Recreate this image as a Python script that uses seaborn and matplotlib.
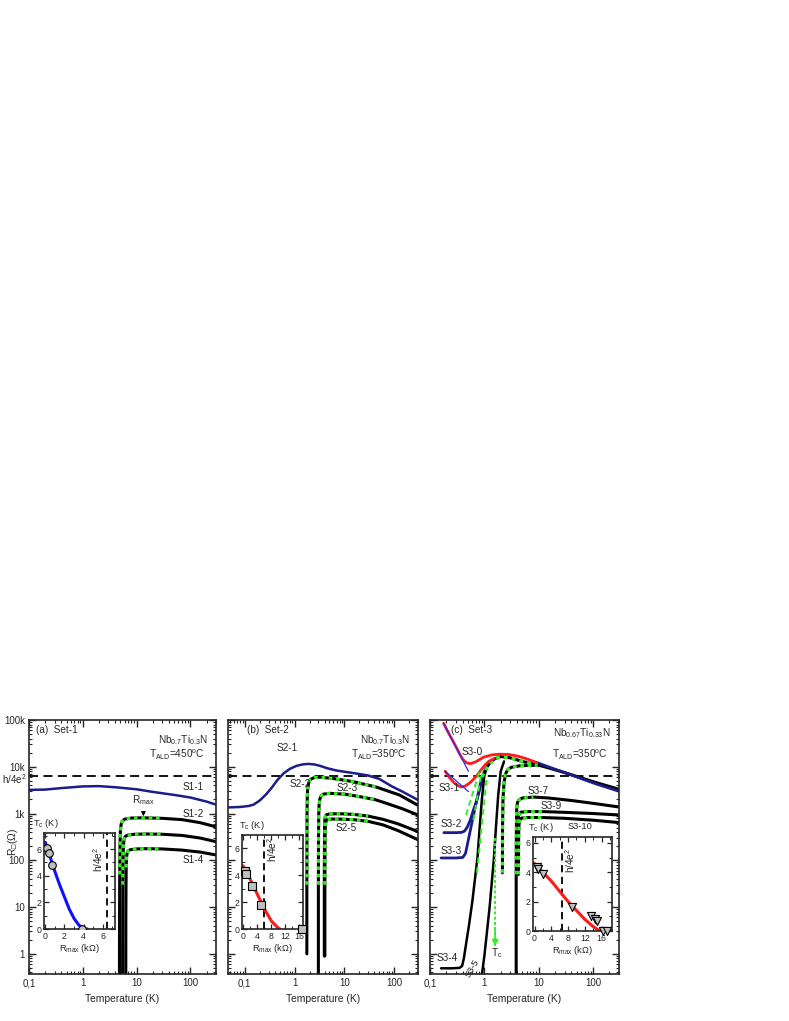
import numpy as np
import seaborn as sns
import matplotlib.pyplot as plt
from matplotlib.ticker import FixedLocator, FuncFormatter, LogLocator, NullFormatter, AutoMinorLocator

# ---------------- data ----------------
# panel (a) Set-1
s11_T = [0.1, 0.2, 0.4, 1, 2, 4, 10, 20, 50, 100, 200, 300]
s11_R = [3200, 3250, 3500, 3800, 3850, 3650, 3300, 2900, 2500, 2200, 1800, 1550]
s12_T = [4.8, 4.82, 4.86, 4.92, 5.0, 5.15, 5.4, 6, 8, 13, 30, 70, 150, 300]
s12_R = [0.1, 5, 50, 200, 420, 580, 680, 760, 800, 810, 790, 740, 640, 520]
s13_T = [5.5, 5.52, 5.56, 5.62, 5.7, 5.85, 6.1, 6.8, 9, 15, 30, 70, 150, 300]
s13_R = [0.1, 5, 30, 110, 200, 280, 320, 345, 360, 365, 360, 340, 300, 250]
s14_T = [6.3, 6.32, 6.36, 6.42, 6.5, 6.65, 6.9, 7.6, 10, 15, 30, 70, 150, 300]
s14_R = [0.1, 5, 25, 70, 110, 140, 158, 168, 175, 177, 175, 165, 150, 130]

# panel (b) Set-2
s21_T = [0.046, 0.08, 0.12, 0.15, 0.2, 0.27, 0.35, 0.45, 0.6, 0.8, 1.1, 1.5, 1.9, 2.5,
         3.2, 4.5, 7, 12, 20, 30, 50, 90, 150, 300]
s21_R = [1350, 1380, 1450, 1550, 1900, 2600, 3600, 5200, 7200, 9000, 10500, 11300, 11500,
         11200, 10500, 9300, 8300, 7600, 7000, 6500, 5500, 3800, 2900, 1950]
s22_T = [1.76, 1.76, 1.77, 1.78, 1.8, 1.85, 1.95, 2.1, 2.5, 3.2, 6, 15, 43, 126, 300]
s22_R = [1.0, 30, 300, 1200, 2500, 3800, 4800, 5400, 5900, 6000, 5600, 4800, 3700, 2500, 1500]
s23_T = [3.0, 3.0, 3.02, 3.05, 3.1, 3.2, 3.4, 3.8, 5, 10, 20, 40, 68, 150, 300]
s23_R = [0.1, 30, 300, 900, 1500, 2000, 2400, 2600, 2700, 2600, 2300, 2000, 1670, 1250, 930]
s24_T = [3.95, 3.95, 3.97, 4.0, 4.05, 4.15, 4.4, 5, 8, 15, 30, 60, 120, 300]
s24_R = [0.9, 30, 200, 500, 750, 880, 950, 980, 990, 960, 880, 750, 600, 410]
s25_T = [4.05, 4.05, 4.07, 4.1, 4.15, 4.25, 4.5, 5.2, 8, 15, 30, 60, 120, 300]
s25_R = [0.9, 30, 150, 380, 560, 680, 740, 760, 760, 740, 680, 570, 430, 275]

# panel (c) Set-3
s30_T = [0.178, 0.21, 0.25, 0.3, 0.35, 0.4, 0.46, 0.55, 0.7, 0.96, 1.4, 1.95, 2.8, 4, 6, 9.2]
s30_R = [85000, 58000, 40000, 27000, 19000, 14500, 12300, 11600, 12800, 16000, 18000, 18600,
         18300, 17000, 14800, 12300]
s30hi_T = [9.2, 15, 30, 60, 120, 300]
s30hi_R = [12300, 10000, 7500, 5600, 4200, 3000]
s30fit_T = [0.178, 0.51]
s30fit_R = [85000, 8000]
s31_T = [0.19, 0.23, 0.28, 0.33, 0.38, 0.45, 0.55, 0.65, 0.73, 0.85, 1.0, 1.2, 1.5]
s31_R = [8000, 5800, 4500, 3900, 3700, 3900, 4600, 5600, 6450, 8300, 10500, 13000, 15000]
s31fit_T = [0.19, 0.51]
s31fit_R = [8000, 2950]
s32_T = [0.18, 0.3, 0.38, 0.43, 0.48, 0.55, 0.63, 0.73, 0.85, 0.96, 1.1, 1.3, 1.6]
s32_R = [390, 390, 395, 420, 500, 720, 1200, 1950, 3800, 6600, 9500, 12500, 15000]
s33_T = [0.16, 0.3, 0.4, 0.45, 0.5, 0.6, 0.73, 0.85, 1.0, 1.2, 1.5]
s33_R = [112, 112, 115, 140, 250, 700, 2000, 4500, 8000, 11500, 14500]
s34_T = [0.16, 0.25, 0.35, 0.39, 0.42, 0.46, 0.52, 0.6, 0.68, 0.75, 0.82, 0.9, 1.0, 1.15, 1.4]
s34_R = [0.49, 0.49, 0.5, 0.55, 0.8, 1.6, 4, 13, 45, 120, 500, 2000, 6500, 11000, 14000]
s35_T = [0.9, 1.0, 1.1, 1.25, 1.4, 1.5, 1.65, 1.8, 2.0, 2.3]
s35_R = [0.35, 0.9, 2.5, 10, 45, 110, 600, 2500, 8000, 13000]
bundle_T = [0.9, 1.2, 1.6, 2.0, 3, 5, 9.5, 15, 30, 60, 120, 300]
bundle_R = [6000, 11000, 15000, 16500, 15500, 13000, 11000, 9500, 7500, 5800, 4500, 3300]
s36_T = [2.15, 2.16, 2.2, 2.3, 2.45, 2.7, 3.2, 4.5, 9.5]
s36_R = [54, 500, 2000, 4500, 7000, 8800, 9800, 10500, 10800]
s37_T = [3.85, 3.85, 3.87, 3.9, 3.95, 4.05, 4.3, 5, 8, 15, 40, 100, 300]
s37_R = [0.1, 50, 300, 800, 1300, 1700, 1950, 2150, 2250, 2150, 1900, 1650, 1380]
s39_T = [4.1, 4.11, 4.13, 4.17, 4.25, 4.4, 4.7, 6, 12, 30, 100, 300]
s39_R = [50, 200, 450, 700, 880, 1000, 1070, 1100, 1100, 1060, 1000, 930]
s310_T = [4.25, 4.26, 4.28, 4.32, 4.4, 4.55, 4.85, 6.2, 12, 30, 100, 300]
s310_R = [50, 170, 360, 540, 660, 750, 800, 820, 820, 790, 720, 640]
g3_fits = [([0.46, 0.83], [930, 8500]), ([0.63, 0.9], [720, 8500]), ([0.73, 1.11], [54, 6200])]
tc_arrow_T = [1.58, 1.58]
tc_arrow_R = [300, 1.45]

# insets
ia_R = [0.17, 0.35, 0.7, 3.8]
ia_Tc = [6.1, 5.7, 4.8, 0.0]
ia_fitR = [0, 0.5, 1, 1.5, 2, 2.5, 3, 3.5, 4, 4.4]
ia_fitTc = [6.5, 5.4, 4.3, 3.3, 2.4, 1.5, 0.8, 0.3, 0.03, 0]
ib_R = [0.5, 0.7, 2.4, 5.2, 16.6]
ib_Tc = [4.3, 4.1, 3.2, 1.8, 0.0]
ib_fitR = [0, 2, 4, 6, 8, 10, 10.5]
ib_fitTc = [4.7, 3.7, 2.6, 1.5, 0.6, 0.05, 0]
ic_R = [0.5, 0.9, 2.0, 9.0, 13.5, 14.5, 15.0, 16.4, 17.4]
ic_Tc = [4.35, 4.25, 3.85, 1.65, 1.0, 0.8, 0.65, 0, 0]
ic_fitR = [0, 2, 4, 6, 8, 10, 12, 14, 15.6]
ic_fitTc = [4.6, 4.0, 3.4, 2.7, 2.0, 1.4, 0.8, 0.3, 0]

H4E2 = 6450.0  # h/4e^2 in ohm

NAVY = "#1c1c8a"
RED = "#ff1a1a"
GREEN = "#33ee22"

FS = 7.2   # annotation size
FT = 7.0   # tick label size
FI = 6.3   # inset size

# ---------------- style ----------------
sns.set_style("ticks")
plt.rcParams["font.family"] = ["Liberation Sans", "DejaVu Sans"]
plt.rcParams["mathtext.fontset"] = "custom"
plt.rcParams["mathtext.rm"] = "Liberation Sans"
plt.rcParams["mathtext.it"] = "Liberation Sans:italic"
plt.rcParams["axes.linewidth"] = 1.2
plt.rcParams["xtick.direction"] = "in"
plt.rcParams["ytick.direction"] = "in"

W, H = 789, 1021
fig = plt.figure(figsize=(W / 100, H / 100), dpi=100)


def box(x0, x1, y0, y1):
    return [x0 / W, 1 - y1 / H, (x1 - x0) / W, (y1 - y0) / H]


def curve(ax, T, R, color="black", lw=1.8, **kw):
    sns.lineplot(x=T, y=R, ax=ax, color=color, lw=lw, sort=False,
                 estimator=None, legend=False, **kw)


def sc_curve(ax, T, R, tmax, rmin=30):
    T = np.asarray(T, float)
    R = np.asarray(R, float)
    curve(ax, T, R, "black", 2.2)
    m = (R >= rmin) & (T <= tmax)
    curve(ax, T[m], R[m], GREEN, 2.2, linestyle=(0, (1.2, 1.2)))


def fmt_x(v, pos):
    return {0.1: "0,1", 1: "1", 10: "10", 100: "100"}.get(round(v, 3), "")


def fmt_y(v, pos):
    return {1: "1", 10: "10", 100: "100", 1000: "1k", 10000: "10k", 100000: "100k"}.get(round(v), "")


def main_axes(rect, xmin, labels):
    ax = fig.add_axes(rect)
    ax.set_xscale("log")
    ax.set_yscale("log")
    ax.set_xlim(xmin, 300)
    ax.set_ylim(0.37, 1e5)
    ax.xaxis.set_major_locator(FixedLocator([0.1, 1, 10, 100]))
    ax.xaxis.set_minor_locator(LogLocator(base=10, subs=np.arange(2, 10), numticks=20))
    ax.xaxis.set_major_formatter(FuncFormatter(fmt_x))
    ax.xaxis.set_minor_formatter(NullFormatter())
    ax.yaxis.set_major_locator(FixedLocator([1, 10, 100, 1e3, 1e4, 1e5]))
    ax.yaxis.set_minor_locator(LogLocator(base=10, subs=np.arange(2, 10), numticks=20))
    ax.yaxis.set_minor_formatter(NullFormatter())
    if labels:
        ax.yaxis.set_major_formatter(FuncFormatter(fmt_y))
    else:
        ax.yaxis.set_major_formatter(NullFormatter())
    ax.tick_params(which="both", top=True, right=True, labelsize=FT, pad=3)
    ax.tick_params(which="major", length=5, width=1)
    ax.tick_params(which="minor", length=2.5, width=0.8)
    ax.set_xlabel("Temperature (K)", fontsize=7.4, labelpad=4)
    ax.axhline(H4E2, color="black", lw=1.3, ls=(0, (5, 3)), zorder=1)
    return ax


def head(ax, label, x, nb, tald, nb_y=0.922):
    ax.text(x, 0.96, label, transform=ax.transAxes, fontsize=FS, va="center")
    ax.text(0.955, nb_y, nb, transform=ax.transAxes, fontsize=FS, ha="right", va="center")
    ax.text(0.94, 0.864, tald, transform=ax.transAxes, fontsize=FS, ha="right", va="center")


def inset_axes(rect, xmax, ymax, xt, dash_x):
    ia = fig.add_axes(rect)
    ia.set_xlim(-0.02 * xmax, xmax)
    ia.set_ylim(0, ymax)
    ia.set_xticks(xt)
    ia.set_yticks([0, 2, 4, 6])
    ia.xaxis.set_minor_locator(AutoMinorLocator(2))
    ia.yaxis.set_minor_locator(AutoMinorLocator(2))
    ia.tick_params(which="both", top=True, right=True, labelsize=FI, pad=2)
    ia.tick_params(which="major", length=3.5, width=0.9)
    ia.tick_params(which="minor", length=2, width=0.7)
    ia.set_xlabel("R$_{\\mathregular{max}}$ (kΩ)", fontsize=FI + 0.4, labelpad=1)
    ia.axvline(dash_x, color="black", lw=1.3, ls=(0, (4, 2.5)))
    return ia


def lab(ax, x, y, s, size=FS, **kw):
    ax.text(x, y, s, fontsize=size, ha=kw.pop("ha", "center"), va="center", **kw)


# ---------------- panel (a) ----------------
axa = main_axes(box(29, 216, 720, 974), 0.1, True)
axa.set_ylabel("R$_{\\mathregular{□}}$(Ω)", fontsize=7.4)
axa.yaxis.set_label_coords(-0.05, 0.52)
curve(axa, s11_T, s11_R, NAVY, 1.8)
for T, R in [(s12_T, s12_R), (s13_T, s13_R), (s14_T, s14_R)]:
    sc_curve(axa, T, R, 60)
axa.text(-0.012, 5400, "h/4e$^2$", transform=axa.get_yaxis_transform(), ha="right",
         va="center", fontsize=FT)
head(axa, "(a)  Set-1", 0.04, "Nb$_{\\mathregular{0.7}}$Ti$_{\\mathregular{0.3}}$N",
     "T$_{\\mathregular{ALD}}$=450$^{\\mathregular{o}}$C")
lab(axa, 180, 3700, "S1-1", ha="right")
lab(axa, 180, 980, "S1-2", ha="right")
lab(axa, 180, 100, "S1-4", ha="right")
axa.annotate("R$_{\\mathregular{max}}$", xy=(13.4, 870), xytext=(13.4, 1900), fontsize=FS,
             ha="center", va="center",
             arrowprops=dict(arrowstyle="-|>", color="black", lw=0.9, mutation_scale=6,
                             shrinkA=1, shrinkB=0))

ia = inset_axes(box(44, 115, 833, 929), 7.3, 7.2, [0, 2, 4, 6], 6.45)
curve(ia, ia_fitR, ia_fitTc, "#1010ff", 2.2)
sns.scatterplot(x=ia_R, y=ia_Tc, ax=ia, marker="o", s=30, color="#c0c0c0",
                edgecolor="black", linewidth=0.8, zorder=5, legend=False)
ia.text(-0.15, 1.03, "T$_{\\mathregular{c}}$ (K)", transform=ia.transAxes, fontsize=FI + 0.4,
        ha="left", va="bottom")
ia.text(0.76, 0.72, "h/4e$^2$", transform=ia.transAxes, fontsize=FS, rotation=90,
        ha="center", va="center")

# ---------------- panel (b) ----------------
axb = main_axes(box(228, 418, 720, 974), 0.046, False)
curve(axb, s21_T, s21_R, NAVY, 1.8)
for T, R in [(s22_T, s22_R), (s23_T, s23_R), (s24_T, s24_R), (s25_T, s25_R)]:
    sc_curve(axb, T, R, 45)
head(axb, "(b)  Set-2", 0.1, "Nb$_{\\mathregular{0.7}}$Ti$_{\\mathregular{0.3}}$N",
     "T$_{\\mathregular{ALD}}$=350$^{\\mathregular{o}}$C")
lab(axb, 0.72, 25000, "S2-1")
lab(axb, 1.3, 4300, "S2-2")
lab(axb, 11.6, 3450, "S2-3")
lab(axb, 10.8, 490, "S2-5")

ib = inset_axes(box(242, 303, 835, 929), 17.0, 7.0, [0, 4, 8, 12, 16], 5.8)
curve(ib, ib_fitR, ib_fitTc, RED, 2.2)
sns.scatterplot(x=ib_R, y=ib_Tc, ax=ib, marker="s", s=28, color="#c0c0c0",
                edgecolor="black", linewidth=0.8, zorder=5, legend=False, clip_on=False)
ib.text(-0.05, 1.03, "T$_{\\mathregular{c}}$ (K)", transform=ib.transAxes, fontsize=FI + 0.4,
        ha="left", va="bottom")
ib.text(0.5, 0.85, "h/4e$^2$", transform=ib.transAxes, fontsize=FS, rotation=90,
        ha="center", va="center")

# ---------------- panel (c) ----------------
axc = main_axes(box(430, 619, 720, 974), 0.1, False)
bT = np.asarray(bundle_T)
bR = np.asarray(bundle_R)
curve(axc, bT[bT >= 1.6], bR[bT >= 1.6], "black", 2.2)
curve(axc, s30hi_T, s30hi_R, NAVY, 2.0)
for T, R in [(s37_T, s37_R), (s39_T, s39_R), (s310_T, s310_R)]:
    sc_curve(axc, T, R, 12, rmin=45)
sc_curve(axc, s36_T, s36_R, 12, rmin=45)
curve(axc, s32_T, s32_R, NAVY, 2.0)
curve(axc, s33_T, s33_R, NAVY, 2.0)
curve(axc, s34_T, s34_R, "black", 1.8)
curve(axc, s35_T, s35_R, "black", 1.8)
curve(axc, bT[bT <= 9.5], bR[bT <= 9.5], GREEN, 2.4, linestyle=(0, (1.2, 1.2)))
curve(axc, s30_T, s30_R, RED, 2.0)
curve(axc, s31_T, s31_R, RED, 2.0)
curve(axc, s30fit_T, s30fit_R, "#2a2aff", 0.9)
curve(axc, s31fit_T, s31fit_R, "#2a2aff", 0.9)
for T, R in g3_fits:
    curve(axc, T, R, GREEN, 1.4, linestyle=(0, (3, 2)))
curve(axc, tc_arrow_T, tc_arrow_R, GREEN, 1.4, linestyle=(0, (1.5, 1.2)))
axc.annotate("", xy=(tc_arrow_T[1], tc_arrow_R[1]), xytext=(tc_arrow_T[1], tc_arrow_R[1] * 2.5),
             arrowprops=dict(arrowstyle="-|>", color=GREEN, lw=1.2, mutation_scale=9,
                             shrinkA=0, shrinkB=0))
lab(axc, 1.72, 1.05, "T$_{\\mathregular{c}}$")
head(axc, "(c)  Set-3", 0.11, "Nb$_{\\mathregular{0.67}}$Ti$_{\\mathregular{0.33}}$N",
     "T$_{\\mathregular{ALD}}$=350$^{\\mathregular{o}}$C", nb_y=0.948)
lab(axc, 0.59, 21000, "S3-0")
lab(axc, 0.23, 3450, "S3-1")
lab(axc, 0.25, 600, "S3-2")
lab(axc, 0.25, 160, "S3-3")
lab(axc, 0.21, 0.8, "S3-4")
lab(axc, 0.6, 0.5, "S3-5", size=FI + 0.4, rotation=60)
lab(axc, 9.9, 3100, "S3-7")
lab(axc, 17.3, 1480, "S3-9")
lab(axc, 57, 520, "S3-10", size=FI + 0.4)

ic = inset_axes(box(533, 612, 837, 931), 18.5, 6.4, [0, 4, 8, 12, 16], 6.45)
curve(ic, ic_fitR, ic_fitTc, RED, 2.2)
sns.scatterplot(x=ic_R, y=ic_Tc, ax=ic, marker="v", s=34, color="#c0c0c0",
                edgecolor="black", linewidth=0.8, zorder=5, legend=False, clip_on=False)
ic.text(-0.06, 1.03, "T$_{\\mathregular{c}}$ (K)", transform=ic.transAxes, fontsize=FI + 0.4,
        ha="left", va="bottom")
ic.text(0.47, 0.75, "h/4e$^2$", transform=ic.transAxes, fontsize=FS, rotation=90,
        ha="center", va="center")

fig.savefig("out.png", dpi=100)
